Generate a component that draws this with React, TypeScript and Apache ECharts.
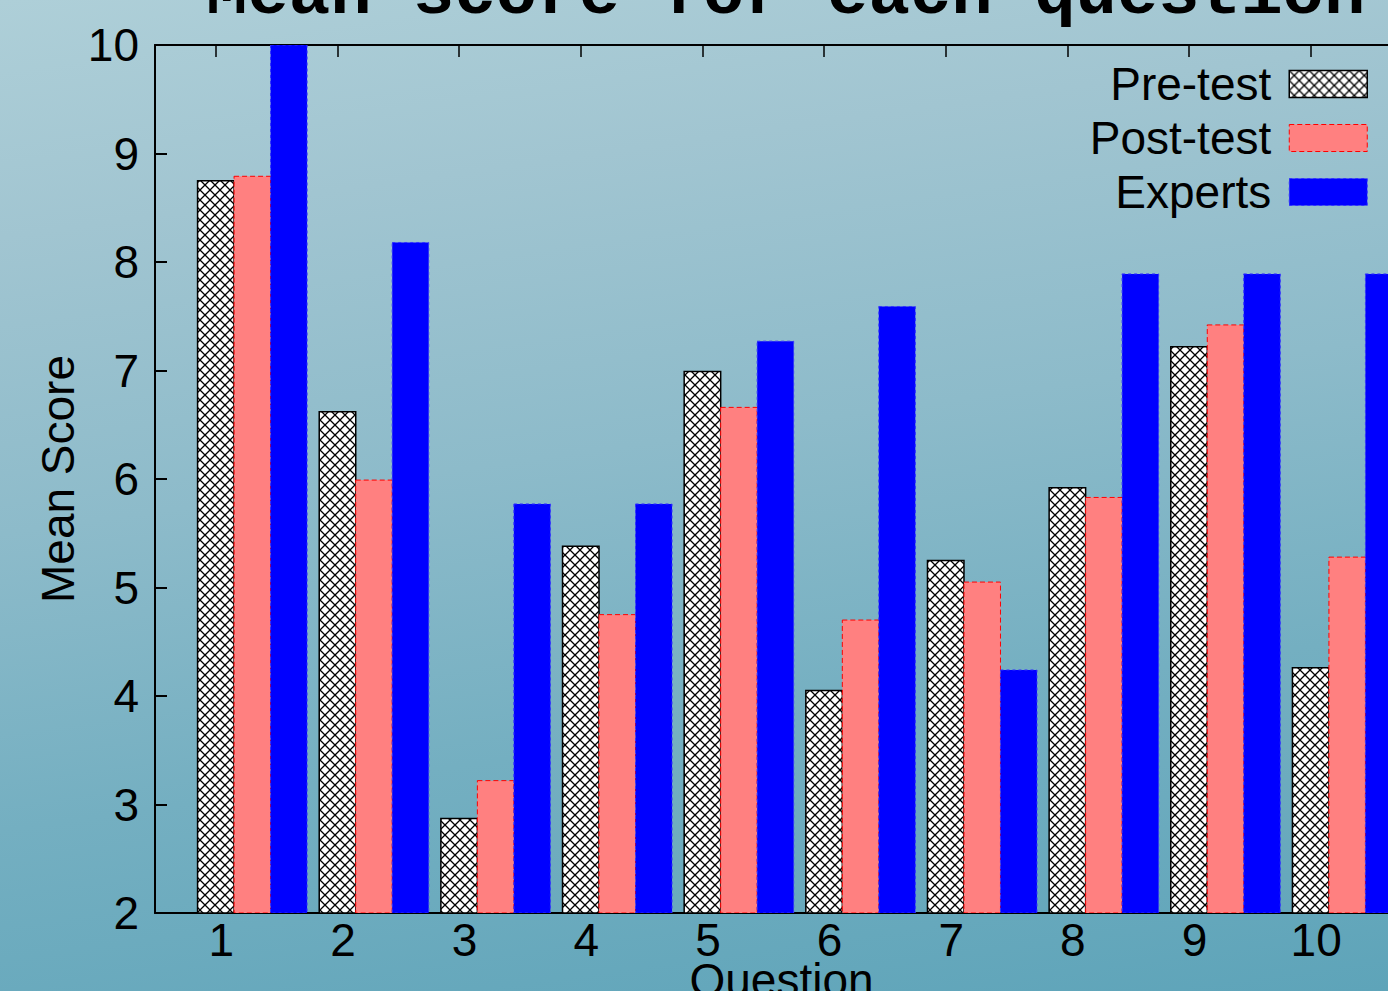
import { useEffect, useRef } from 'react';
import * as echarts from 'echarts';

// Question numbers and their axis labels
const QUESTIONS = [1, 2, 3, 4, 5, 6, 7, 8, 9, 10];
const QUESTION_LABELS = ['1', '2', '3', '4', '5', '6', '7', '8', '9', '10'];

// Mean scores per question
const PRE_TEST = [8.75, 6.62, 2.87, 5.38, 6.99, 4.05, 5.25, 5.92, 7.22, 4.26];
const POST_TEST = [8.79, 5.99, 3.22, 4.75, 6.66, 4.7, 5.05, 5.83, 7.42, 5.28];
const EXPERTS = [10, 8.18, 5.77, 5.77, 7.27, 7.59, 4.24, 7.89, 7.89, 7.89];

const SERIES_NAMES = ['Pre-test', 'Post-test', 'Experts'];

const Y_MIN = 2;
const Y_MAX = 10;
const X_MIN = 0.5;
const X_MAX = 10.8;
const BAR_W = 0.3;

const FONT = '"Liberation Sans", Arial, Helvetica, sans-serif';

function makeCrossHatch(): HTMLCanvasElement {
  const s = 10;
  const c = document.createElement('canvas');
  c.width = s;
  c.height = s;
  const ctx = c.getContext('2d')!;
  ctx.fillStyle = '#ffffff';
  ctx.fillRect(0, 0, s, s);
  ctx.strokeStyle = '#000000';
  ctx.lineWidth = 1.3;
  ctx.beginPath();
  ctx.moveTo(0, 0);
  ctx.lineTo(s, s);
  ctx.moveTo(s, 0);
  ctx.lineTo(0, s);
  ctx.stroke();
  return c;
}

export default function App() {
  const ref = useRef<HTMLDivElement>(null);

  useEffect(() => {
    if (!ref.current) return;
    const chart = echarts.init(ref.current, undefined, { renderer: 'svg' });
    const hatch = { image: makeCrossHatch(), repeat: 'repeat' };

    const styles = [
      { fill: hatch, stroke: '#000000', lineWidth: 1.5 },
      { fill: '#ff8080', stroke: '#ff0000', lineWidth: 1, lineDash: [5, 3] },
      { fill: '#0000ff', stroke: '#3333ff', lineWidth: 1, lineDash: [3, 3] },
    ];
    const offsets = [0, BAR_W, 2 * BAR_W];
    const values = [PRE_TEST, POST_TEST, EXPERTS];

    const series = SERIES_NAMES.map((name, si) => ({
      type: 'custom',
      name,
      clip: true,
      data: QUESTIONS.map((q, i) => [q, values[si][i]]),
      renderItem: (_params: any, api: any) => {
        const x = api.value(0) + offsets[si];
        const v = api.value(1);
        const tl = api.coord([x - BAR_W / 2, v]);
        const br = api.coord([x + BAR_W / 2, Y_MIN]);
        return {
          type: 'rect',
          shape: { x: tl[0], y: tl[1], width: br[0] - tl[0], height: br[1] - tl[1] },
          style: styles[si],
        };
      },
    }));

    chart.setOption({
      animation: false,
      title: {
        text: 'Mean score for each question',
        left: 206,
        top: -40,
        padding: 0,
        textStyle: {
          fontFamily: '"Liberation Mono", "Courier New", monospace',
          fontWeight: 'bold',
          fontSize: 69,
          color: '#000',
        },
      },
      legend: {
        orient: 'vertical',
        right: 20,
        top: 57,
        padding: 0,
        align: 'right',
        icon: 'rect',
        itemWidth: 78,
        itemHeight: 27,
        itemGap: 0,
        textStyle: {
          fontFamily: FONT,
          fontSize: 46,
          color: '#000',
          lineHeight: 54,
          padding: [0, 13, 0, 0],
        },
        data: [
          { name: 'Pre-test', itemStyle: { color: hatch, borderColor: '#000', borderWidth: 1.5 } },
          {
            name: 'Post-test',
            itemStyle: { color: '#ff8080', borderColor: '#ff0000', borderWidth: 1, borderType: [5, 3] },
          },
          {
            name: 'Experts',
            itemStyle: { color: '#0000ff', borderColor: '#3333ff', borderWidth: 1, borderType: [3, 3] },
          },
        ],
      },
      grid: {
        left: 155,
        top: 45,
        bottom: 78,
        right: -20,
        containLabel: false,
        outerBoundsMode: 'none',
      },
      xAxis: [
        {
          type: 'value',
          position: 'bottom',
          min: X_MIN,
          max: X_MAX,
          splitNumber: 10,
          name: 'Question',
          nameLocation: 'middle',
          nameGap: 48,
          nameMoveOverlap: false,
          nameTextStyle: { fontFamily: FONT, fontSize: 46, lineHeight: 38, color: '#000' },
          axisLine: { show: true, lineStyle: { color: '#000', width: 2 } },
          axisTick: { show: false },
          splitLine: { show: false },
          axisLabel: {
            fontFamily: FONT,
            fontSize: 46,
            lineHeight: 38,
            color: '#000',
            margin: 8,
            padding: [0, 0, 0, 11],
            showMinLabel: false,
            showMaxLabel: false,
            formatter: (v: number) =>
              Number.isInteger(v) && v >= 1 && v <= QUESTION_LABELS.length ? QUESTION_LABELS[v - 1] : '',
          },
        },
        {
          type: 'value',
          position: 'top',
          min: X_MIN,
          max: X_MAX,
          splitNumber: 10,
          axisLine: { show: true, lineStyle: { color: '#000', width: 2 } },
          axisTick: { show: true, inside: true, length: 12, lineStyle: { color: '#000', width: 1.5 } },
          axisLabel: { show: false },
          splitLine: { show: false },
        },
      ],
      yAxis: {
        type: 'value',
        min: Y_MIN,
        max: Y_MAX,
        interval: 1,
        name: 'Mean Score',
        nameLocation: 'middle',
        nameGap: 74,
        nameMoveOverlap: false,
        nameRotate: 90,
        nameTextStyle: { fontFamily: FONT, fontSize: 46, color: '#000' },
        axisLine: { show: true, lineStyle: { color: '#000', width: 2 } },
        axisTick: { show: true, inside: true, length: 12, lineStyle: { color: '#000', width: 2 } },
        splitLine: { show: false },
        axisLabel: { fontFamily: FONT, fontSize: 46, color: '#000', margin: 16 },
      },
      series,
    });

    return () => chart.dispose();
  }, []);

  return (
    <div
      ref={ref}
      style={{
        position: 'absolute',
        left: 0,
        top: 0,
        width: 1388,
        height: 991,
        overflow: 'hidden',
        background:
          'linear-gradient(172deg, #aecfd8 0%, #a1c5d1 20%, #8dbbca 45%, #74afc1 70%, #5ea4b9 100%)',
      }}
    />
  );
}
